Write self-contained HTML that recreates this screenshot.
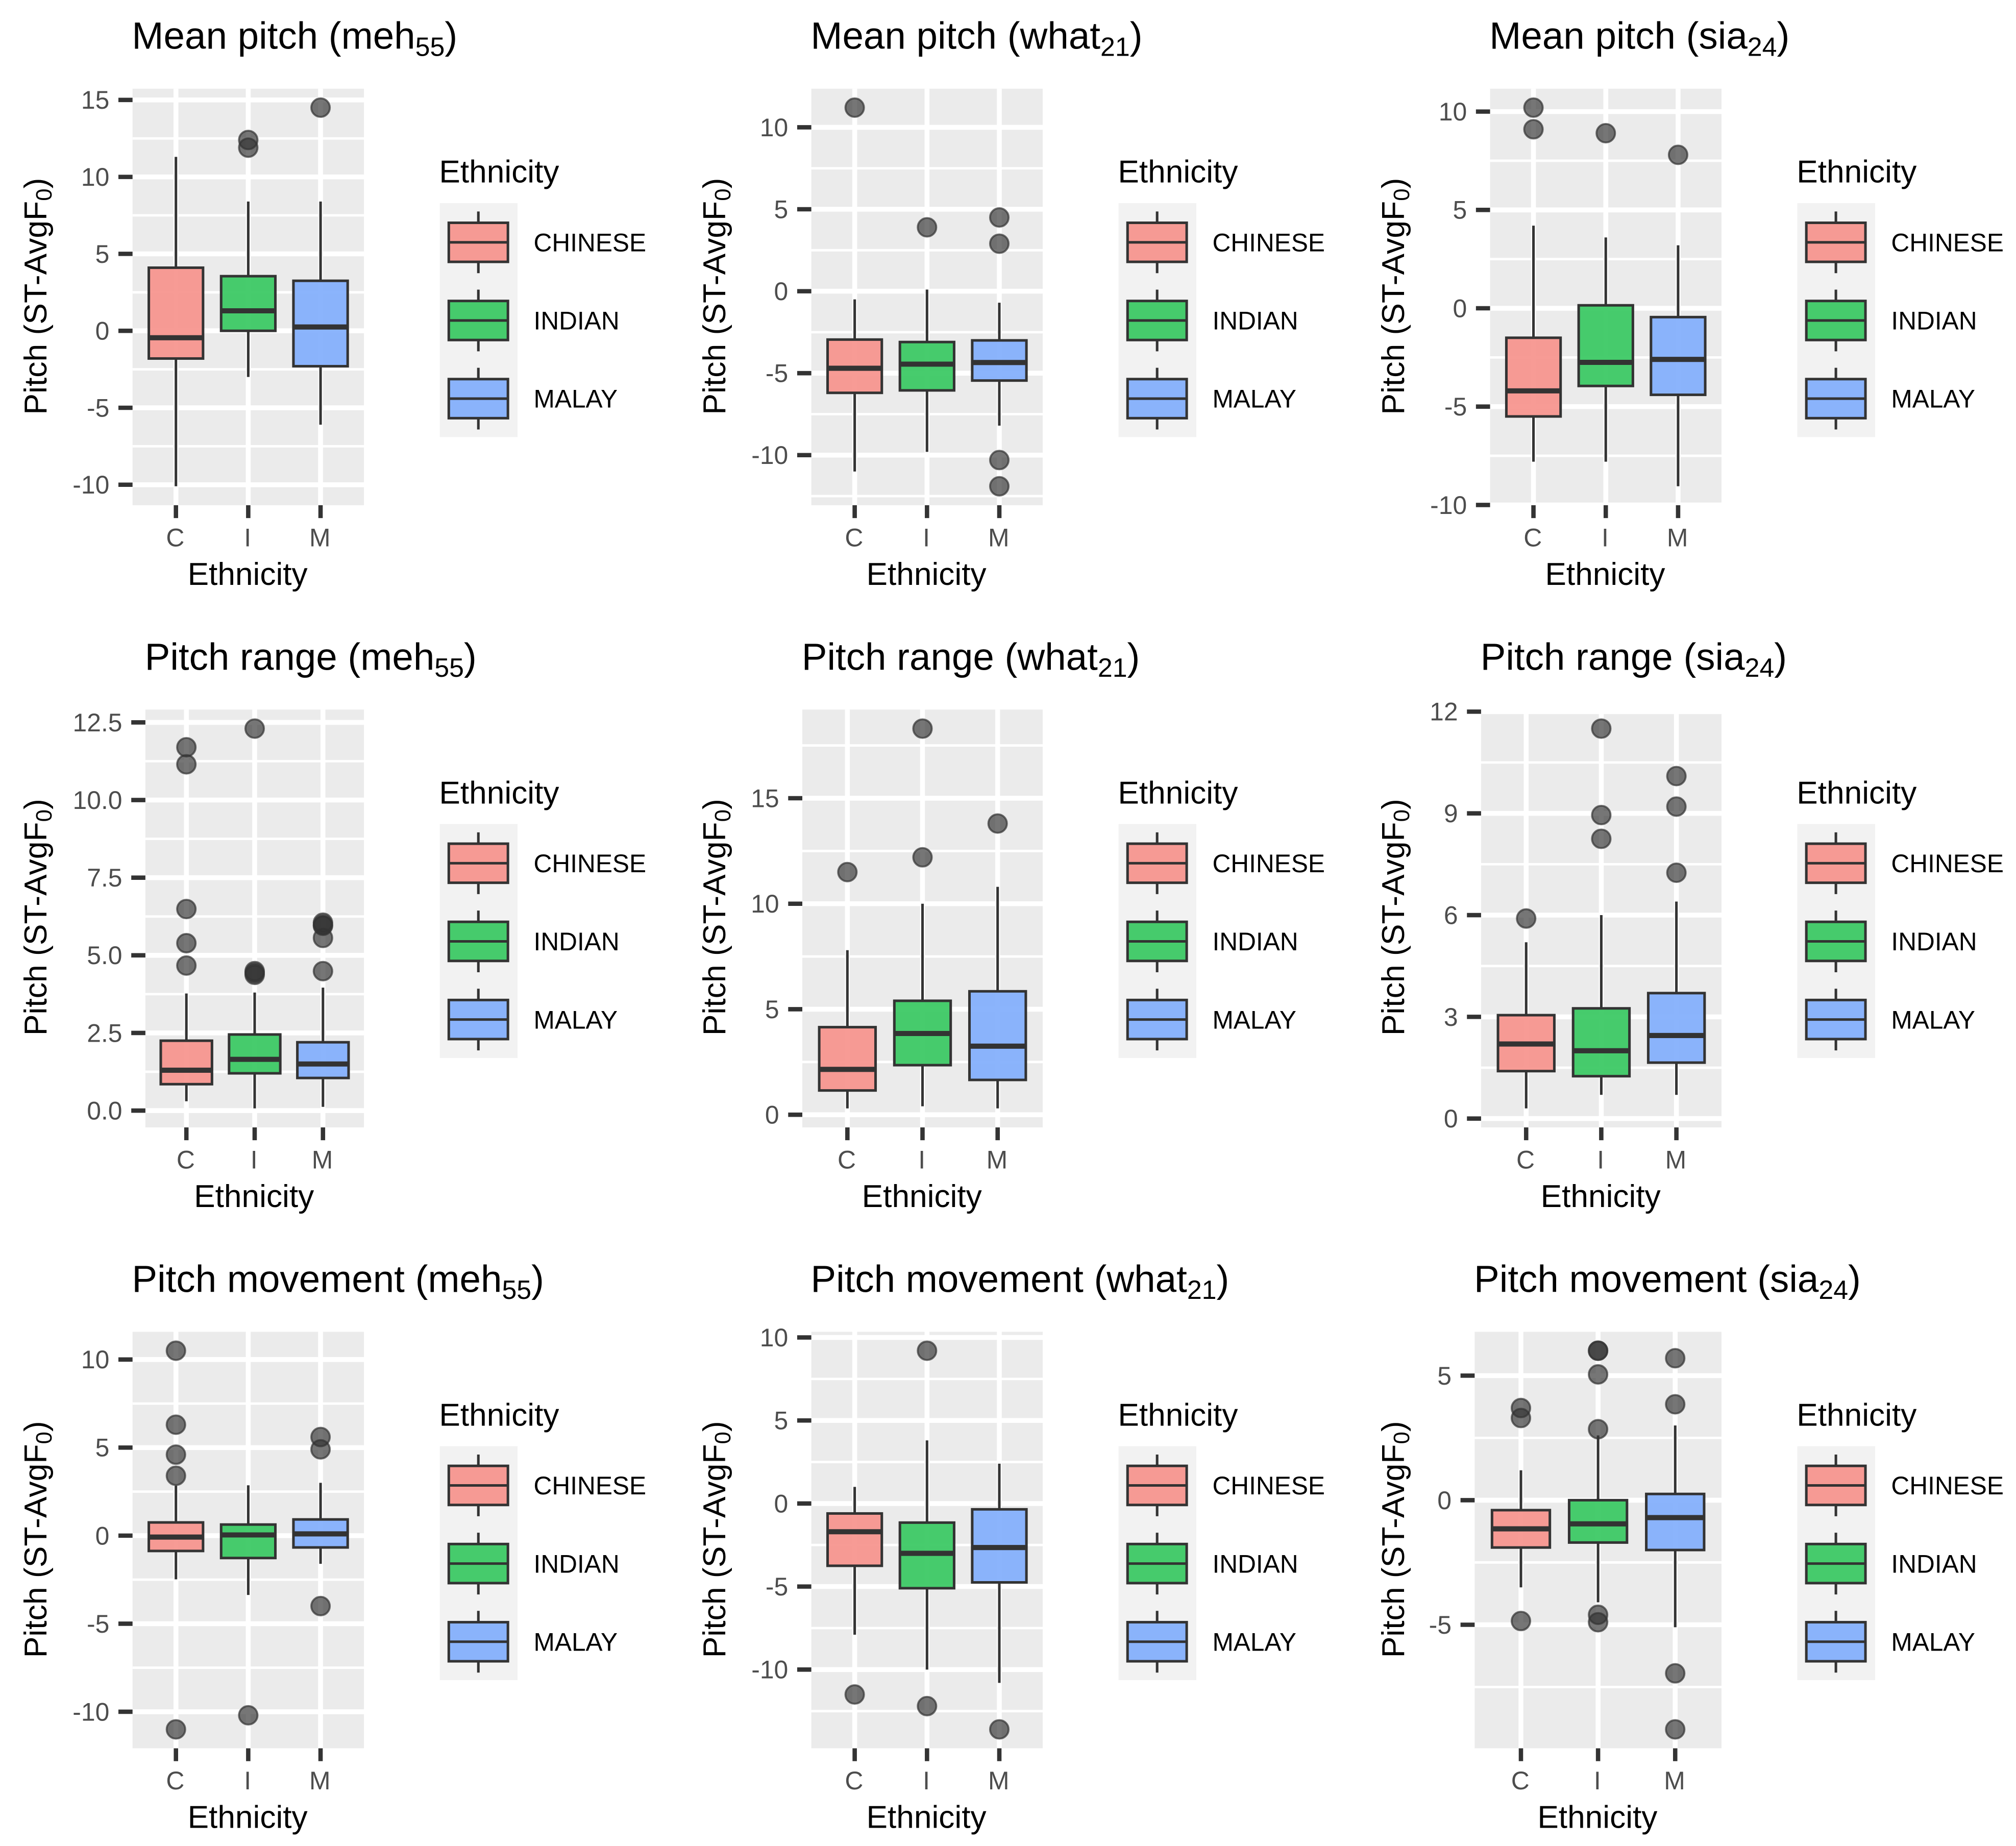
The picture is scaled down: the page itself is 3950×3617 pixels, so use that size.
<!DOCTYPE html>
<html lang="en">
<head>
<meta charset="utf-8">
<title>Pitch by ethnicity boxplots</title>
<style>
html,body{margin:0;padding:0;background:#fff;width:3950px;height:3617px;overflow:hidden}
svg{display:block;font-family:"Liberation Sans",sans-serif}
</style>
</head>
<body>
<svg id="chart" xmlns="http://www.w3.org/2000/svg" width="3950" height="3617" viewBox="0 0 1568 1436"></svg>
<script>
// ---- Data: one entry per panel, left-to-right, top-to-bottom; inner arrays are C, I, M ----
const categories = ['C', 'I', 'M'];
const legendLabels = ['CHINESE', 'INDIAN', 'MALAY'];
const titleMain = ['Mean pitch (meh', 'Mean pitch (what', 'Mean pitch (sia', 'Pitch range (meh', 'Pitch range (what', 'Pitch range (sia', 'Pitch movement (meh', 'Pitch movement (what', 'Pitch movement (sia'];
const titleSub = ['55', '21', '24', '55', '21', '24', '55', '21', '24'];
const yTickLabels = [
  ['-10', '-5', '0', '5', '10', '15'],
  ['-10', '-5', '0', '5', '10'],
  ['-10', '-5', '0', '5', '10'],
  ['0.0', '2.5', '5.0', '7.5', '10.0', '12.5'],
  ['0', '5', '10', '15'],
  ['0', '3', '6', '9', '12'],
  ['-10', '-5', '0', '5', '10'],
  ['-10', '-5', '0', '5', '10'],
  ['-5', '0', '5']
];
const lowerWhisker = [
  [-10.1, -3, -6.1], [-11, -9.8, -8.2], [-7.8, -7.8, -9.05],
  [0.3, 0.07, 0.12], [0.3, 0.4, 0.3], [0.3, 0.7, 0.7],
  [-2.48, -3.37, -1.6], [-7.9, -10, -10.8], [-3.5, -4.1, -5.1]
];
const q1Values = [
  [-1.8, 0, -2.3], [-6.2, -6.05, -5.45], [-5.5, -3.95, -4.4],
  [0.85, 1.2, 1.05], [1.15, 2.35, 1.65], [1.4, 1.25, 1.65],
  [-0.87, -1.27, -0.67], [-3.75, -5.1, -4.75], [-1.9, -1.7, -2]
];
const medianValues = [
  [-0.45, 1.3, 0.25], [-4.7, -4.45, -4.35], [-4.2, -2.75, -2.6],
  [1.3, 1.65, 1.5], [2.15, 3.85, 3.25], [2.2, 2, 2.45],
  [-0.08, 0.04, 0.1], [-1.7, -3, -2.65], [-1.15, -0.95, -0.7]
];
const q3Values = [
  [4.1, 3.55, 3.25], [-2.95, -3.1, -3], [-1.5, 0.15, -0.45],
  [2.25, 2.45, 2.2], [4.15, 5.4, 5.85], [3.05, 3.25, 3.7],
  [0.75, 0.63, 0.92], [-0.6, -1.15, -0.35], [-0.4, 0, 0.25]
];
const upperWhisker = [
  [11.3, 8.4, 8.4], [-0.5, 0.1, -0.7], [4.2, 3.6, 3.2],
  [3.77, 3.8, 3.96], [7.8, 10, 10.8], [5.2, 6, 6.4],
  [2.85, 2.86, 3], [1, 3.8, 2.4], [1.2, 2.6, 3]
];
const outlierValues = [
  [[], [11.9, 12.4], [14.5]],
  [[11.2], [3.9], [4.5, 2.9, -10.3, -11.9]],
  [[10.2, 9.1], [8.9], [7.8]],
  [[11.7, 11.15, 6.49, 5.39, 4.67], [12.3, 4.49, 4.43, 4.37], [6.05, 5.98, 5.95, 5.56, 4.49]],
  [[11.5], [18.3, 12.2], [13.8]],
  [[5.9], [11.5, 8.95, 8.25], [10.1, 9.2, 7.25]],
  [[10.5, 6.3, 4.6, 3.4, -11], [-10.2], [5.6, 4.9, -4]],
  [[-11.5], [9.2, -12.2], [-13.6]],
  [[3.7, 3.3, -4.85], [6, 6, 5.05, 2.85, -4.6, -4.9], [5.7, 3.85, -6.95, -9.2]]
];

// ---- Layout (not data) ----
const panelLefts = [103, 631, 1159, 113, 624, 1152, 103, 631, 1147];
const columnRights = [283, 811, 1339];
const rowTops = [69, 552, 1036];
const rowHeights = [324, 325, 324];
const columnOffsets = [0, 528, 1056];
const boxFills = ['#F7968F', '#3DC965', '#85B0FC'];
const legendFills = ['#F69A94', '#46CB6C', '#8AB3FB'];
const svg = document.getElementById('chart');
const NS = 'http://www.w3.org/2000/svg';

function make(tag, attrs, parent) {
  const el = document.createElementNS(NS, tag);
  for (const k in attrs) el.setAttribute(k, attrs[k]);
  parent.appendChild(el);
  return el;
}

function yDomain(p) {
  const all = [].concat(lowerWhisker[p], upperWhisker[p], q1Values[p], q3Values[p], ...outlierValues[p]);
  const lo = Math.min(...all), hi = Math.max(...all), pad = (hi - lo) * 0.05;
  return [lo - pad, hi + pad];
}

function drawPanel(p) {
  const col = p % 3, row = Math.floor(p / 3);
  const panelHeight = rowHeights[row];
  const left = panelLefts[p], right = columnRights[col], top = rowTops[row], bottom = top + panelHeight;
  const dom = yDomain(p);
  const yScale = v => bottom - (v - dom[0]) / (dom[1] - dom[0]) * panelHeight;
  const unit = (right - left) / 3.2;
  const xScale = i => left + (i + 0.6) * unit;

  const g = make('g', {}, svg);
  
  

  // title
  const title = make('text', {x: left - 0.5, y: top - 31, 'font-size': 29.6, fill: '#000'}, g);
  
  
  title.appendChild(document.createTextNode(titleMain[p]));
  make('tspan', {'font-size': 20.6, dy: 5.5}, title).textContent = titleSub[p];
  make('tspan', {dy: -5.5}, title).textContent = ')';

  // panel background
  const bg = make('rect', {x: left, y: top, width: right - left, height: panelHeight, fill: '#EBEBEB'}, g);
  
  

  // grid
  const ticks = yTickLabels[p].map(parseFloat);
  const step = ticks[1] - ticks[0];
  for (let v = ticks[0] - step / 2; v <= ticks[ticks.length - 1] + step / 2 + 1e-9; v += step) {
    if (v < dom[0] || v > dom[1]) continue;
    const line = make('line', {x1: left, x2: right, y1: yScale(v), y2: yScale(v), stroke: '#fff', 'stroke-width': 1.9}, g);
    
    
  }
  ticks.forEach((v, i) => {
    const y = yScale(v);
    const line = make('line', {x1: left, x2: right, y1: y, y2: y, stroke: '#fff', 'stroke-width': 3.8}, g);
    
    
    const tick = make('line', {x1: left - 11, x2: left, y1: y, y2: y, stroke: '#333', 'stroke-width': 3.4}, g);
    
    
    const label = make('text', {x: left - 18, y: y + 6.9, 'text-anchor': 'end', 'font-size': 19.8, fill: '#4D4D4D'}, g);
    
    
    label.textContent = yTickLabels[p][i];
  });
  categories.forEach((c, i) => {
    const x = xScale(i);
    const line = make('line', {x1: x, x2: x, y1: top, y2: bottom, stroke: '#fff', 'stroke-width': 3.8}, g);
    
    
    const tick = make('line', {x1: x, x2: x, y1: bottom, y2: bottom + 10, stroke: '#333', 'stroke-width': 3.4}, g);
    
    
    const label = make('text', {x: x - 0.5, y: bottom + 32, 'text-anchor': 'middle', 'font-size': 19.8, fill: '#4D4D4D'}, g);
    
    
    label.textContent = c;
  });

  // boxes
  categories.forEach((c, i) => {
    const x = xScale(i), w = unit * 0.75;
    outlierValues[p][i].forEach(v => {
      const dot = make('circle', {cx: x, cy: yScale(v), r: 7.2, fill: '#333', 'fill-opacity': 0.67, stroke: '#333', 'stroke-opacity': 0.7, 'stroke-width': 1.5}, g);
      
      
    });
    const upper = make('line', {x1: x, x2: x, y1: yScale(upperWhisker[p][i]), y2: yScale(q3Values[p][i]), stroke: '#333', 'stroke-width': 2}, g);
    
    
    const lower = make('line', {x1: x, x2: x, y1: yScale(q1Values[p][i]), y2: yScale(lowerWhisker[p][i]), stroke: '#333', 'stroke-width': 2}, g);
    
    
    const ytop = yScale(q3Values[p][i]), ybot = yScale(q1Values[p][i]);
    const box = make('rect', {x: x - w / 2, y: ytop, width: w, height: ybot - ytop, fill: boxFills[i], 'fill-opacity': 0.95, stroke: '#333', 'stroke-width': 2}, g);
    
    
    const ym = yScale(medianValues[p][i]);
    const med = make('line', {x1: x - w / 2, x2: x + w / 2, y1: ym, y2: ym, stroke: '#333', 'stroke-width': 4}, g);
    
    
  });

  // axis titles
  const xTitle = make('text', {x: (left + right) / 2 - 0.5, y: bottom + 62, 'text-anchor': 'middle', 'font-size': 24.7, fill: '#000'}, g);
  
  
  xTitle.textContent = 'Ethnicity';

  const yx = 36 + columnOffsets[col], yy = top + 161.5;
  const yTitle = make('text', {x: yx, y: yy, transform: 'rotate(-90 ' + yx + ' ' + yy + ')', 'text-anchor': 'middle', 'font-size': 24.8, fill: '#000'}, g);
  
  
  yTitle.appendChild(document.createTextNode('Pitch (ST-AvgF'));
  make('tspan', {'font-size': 17.4, dy: 4}, yTitle).textContent = '0';
  make('tspan', {dy: -4}, yTitle).textContent = ')';

  // legend
  const lx = 342 + columnOffsets[col];
  const lg = make('g', {}, g);
  
  
  const lt = make('text', {x: lx - 0.5, y: top + 73, 'font-size': 24.7, fill: '#000'}, lg);
  
  
  lt.textContent = 'Ethnicity';
  const lbg = make('rect', {x: lx, y: top + 89, width: 60.5, height: 182, fill: '#F2F2F2'}, lg);
  
  
  legendLabels.forEach((name, i) => {
    const cy = top + 119.5 + i * 60.8, cx = lx + 30;
    const whisker = make('line', {x1: cx, x2: cx, y1: cy - 24, y2: cy + 24, stroke: '#333', 'stroke-width': 2}, lg);
    
    
    const key = make('rect', {x: cx - 23, y: cy - 15.2, width: 46, height: 30.4, fill: legendFills[i], stroke: '#333', 'stroke-width': 2}, lg);
    
    
    const mid = make('line', {x1: cx - 23, x2: cx + 23, y1: cy, y2: cy, stroke: '#333', 'stroke-width': 2}, lg);
    
    
    const txt = make('text', {x: lx + 73, y: cy + 7, 'font-size': 19.7, fill: '#000'}, lg);
    
    
    txt.textContent = name;
  });
}

for (let p = 0; p < 9; p++) drawPanel(p);
</script>
</body>
</html>
